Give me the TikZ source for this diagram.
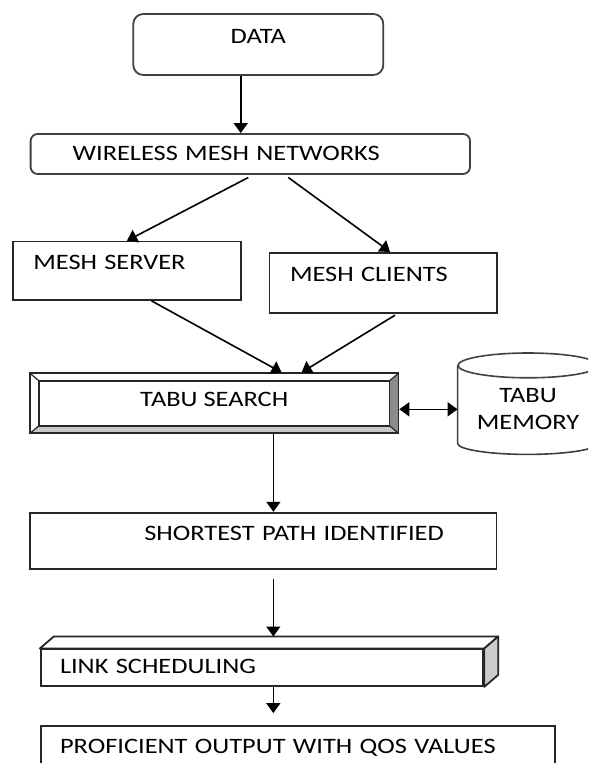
\documentclass[tikz,border=0pt]{standalone}
\usepackage{fontspec}
\setmainfont{Carlito}[FakeStretch=1.2]
\usepackage{tikz}
\usetikzlibrary{positioning}
\usetikzlibrary{shapes.geometric,arrows.meta}

\tikzset{
  every node/.style={font=\fontsize{11}{13.5}\selectfont},
  rbox/.style={draw=black!75, line width=0.9pt, rounded corners=5pt, text height=7pt},
  sbox/.style={draw=black!85, line width=0.9pt, text height=7pt},
  arr/.style={-{Triangle[length=5pt,width=7pt]}, line width=0.8pt},
  darr/.style={{Triangle[length=5pt,width=7pt]}-{Triangle[length=5pt,width=7pt]}, line width=0.8pt},
  bevelbox/.style={draw=black!85, line width=0.9pt, text height=7pt, path picture={
    \path (path picture bounding box.south west) coordinate (bv-sw)
      (path picture bounding box.north east) coordinate (bv-ne)
      (path picture bounding box.south east) coordinate (bv-se)
      (path picture bounding box.north west) coordinate (bv-nw);
    \fill[black!45] (bv-ne) -- ++(-4.5pt,-3.8pt) -- ([shift={(-4.5pt,3.8pt)}]bv-se) -- (bv-se) -- cycle;
    \fill[black!22] (bv-sw) -- ++(4.5pt,3.8pt) -- ([shift={(-4.5pt,3.8pt)}]bv-se) -- (bv-se) -- cycle;
    \draw[draw=black!85, line width=0.6pt] (bv-sw) -- ++(4.5pt,3.8pt) (bv-nw) -- ++(4.5pt,-3.8pt)
      (bv-ne) -- ++(-4.5pt,-3.8pt) (bv-se) -- ++(-4.5pt,3.8pt);
    \draw[draw=black!85, line width=0.9pt] ([shift={(4.5pt,3.8pt)}]bv-sw) rectangle ([shift={(-4.5pt,-3.8pt)}]bv-ne);
  }},
  drum/.style={draw=black!75, line width=0.8pt},
}

\begin{document}
\begin{tikzpicture}[x=0.5pt,y=-0.5pt]
  \useasboundingbox (0,0) rectangle (588,763);
  \clip (0,0) rectangle (588,763);

  \node (data) [rbox, minimum width=125pt, minimum height=30.5pt, text depth=8.2pt] at (258.3,44.5) {DATA};
  \node (wmn) [rbox, rounded corners=3.5pt, text width=177.7pt, inner xsep=21pt, minimum height=20pt, text depth=0pt, align=left] at (250.3,154) {WIRELESS MESH NETWORKS};
  \node (srv) [sbox, text width=93.7pt, inner xsep=10pt, minimum height=29.2pt, text depth=8.6pt, align=left] at (127,270.8) {MESH SERVER};
  \node (cli) [sbox, text width=93pt, inner xsep=10.3pt, minimum height=30.3pt, text depth=8.8pt, align=left] at (383,283) {MESH CLIENTS};
  \node (tabu) [bevelbox, minimum width=184.2pt, minimum height=30pt, text depth=3.3pt] at (214.2,403.3) {TABU SEARCH};
  \node (mem) [minimum width=70pt, minimum height=50.3pt, align=center, text height=26pt, text depth=0pt] at (528,403.7) {TABU\\MEMORY};
  \node (sp) [sbox, text width=180.6pt, inner xsep=26.3pt, minimum height=28.3pt, text depth=8pt, align=right] at (263.3,541) {SHORTEST PATH IDENTIFIED};
  \node (lnk) [sbox, fill=white, text width=202pt, inner xsep=9.65pt, minimum height=18.3pt, text depth=1.7pt, align=left] at (262,667.7) {LINK SCHEDULING};
  \node (out) [sbox, text width=237.8pt, inner xsep=9.7pt, minimum height=28pt, text depth=7.7pt, align=left] at (297.85,754) {PROFICIENT OUTPUT WITH QOS VALUES};

  \draw[drum] ([yshift=-6.2pt]mem.north) ellipse [x radius=35pt, y radius=6.2pt];
  \draw[drum] ([yshift=-6.2pt]mem.north west) -- ([yshift=5.5pt]mem.south west)
    arc[start angle=180, end angle=360, x radius=35pt, y radius=5.5pt]
    -- ([yshift=-6.2pt]mem.north east);

  \filldraw[draw=black!85, fill=white, line width=0.9pt, line join=round] (lnk.north west) -- ++(7pt,6pt) -- ([shift={(7pt,6pt)}]lnk.north east) -- (lnk.north east) -- cycle;
  \filldraw[draw=black!85, fill=black!20, line width=0.9pt, line join=round] (lnk.north east) -- ++(7pt,6pt) -- ([shift={(7pt,6pt)}]lnk.south east) -- (lnk.south east) -- cycle;
  \path ([yshift=6pt]lnk.north) coordinate (lnk-top);

  \draw[arr] ([xshift=-8.8pt]data.south) coordinate (a1) -- (a1 |- wmn.north);
  \draw[arr] ([xshift=-1pt,yshift=-1.3pt]wmn.south) -- (srv.north);
  \draw[arr] ([xshift=19pt,yshift=-1.3pt]wmn.south) -- ([xshift=3.5pt]cli.north);
  \draw[arr] ([xshift=12.3pt]srv.south) -- ([xshift=33.7pt]tabu.north);
  \draw[arr] ([xshift=6pt,yshift=-0.5pt]cli.south) -- ([xshift=43.7pt]tabu.north);
  \draw[darr] ([yshift=-3pt]tabu.east) coordinate (a2) -- (a2 -| mem.west);
  \draw[arr] ([xshift=29.6pt]tabu.south) coordinate (a3) -- (a3 |- sp.north);
  \draw[arr] ([xshift=5pt,yshift=-4.5pt]sp.south) coordinate (a4) -- (a4 |- lnk-top);
  \draw[arr, shorten >=6pt] ([xshift=5.65pt]lnk.south) coordinate (a5) -- (a5 |- out.north);
\end{tikzpicture}
\end{document}
